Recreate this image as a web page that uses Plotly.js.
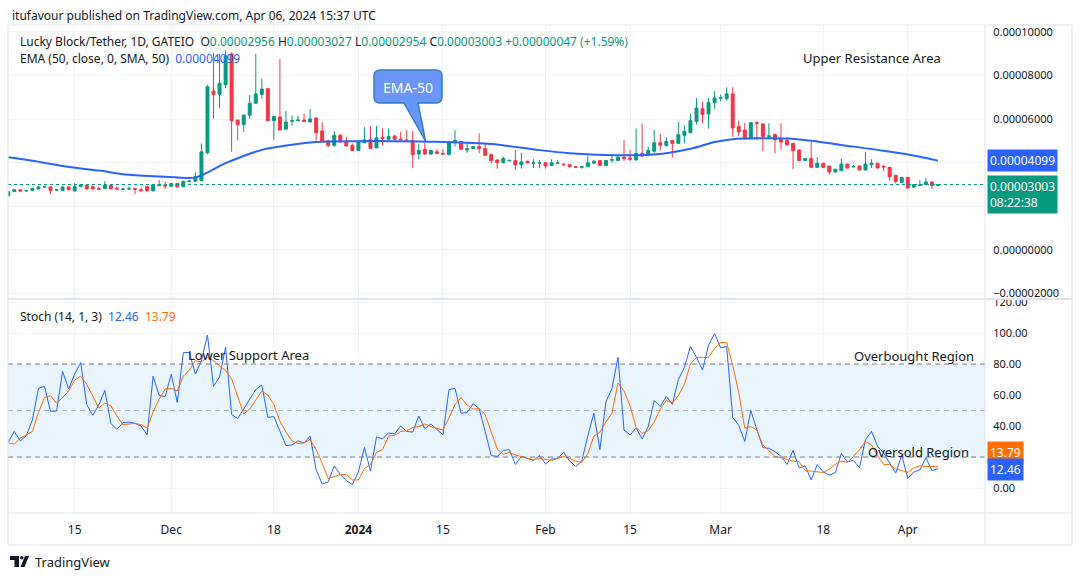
<!DOCTYPE html>
<html>
<head>
<meta charset="utf-8">
<script src="https://cdn.plot.ly/plotly-3.0.1.min.js"></script>
<style>html,body{margin:0;padding:0;background:#fff;}#chart{width:1080px;height:579px;}</style>
</head>
<body>
<div id="chart"></div>
<script>
// Prices in micro-USDT (1e-6 USDT); daily candles from 2023-11-04
const priceUnit = 1e-6;
const startDay = '2023-11-04';
const open = [
24.9,26.8,27.6,27.1,27.3,28.0,28.9,28.9,27.4,27.3,
28.9,27.1,29.1,29.6,29.0,28.1,28.1,29.6,28.3,27.7,
28.0,28.1,27.6,29.0,27.1,29.9,29.6,29.2,30.5,29.0,
31.4,31.5,31.8,44.6,72.9,71.4,75.8,89.9,59.6,57.5,
61.8,67.3,71.4,74.0,59.3,61.0,55.4,59.1,59.4,59.6,
58.7,60.5,54.6,50.0,48.0,52.6,49.8,47.9,45.6,49.2,
50.6,46.8,51.7,50.8,52.3,50.9,50.5,50.2,44.0,46.2,
44.0,45.0,44.3,43.7,49.5,49.8,45.9,46.5,47.4,46.5,
43.7,41.3,40.0,40.9,41.0,39.1,40.7,39.7,39.8,40.0,
38.8,39.8,39.4,39.1,38.2,37.9,38.2,39.8,41.0,38.8,
41.2,41.0,42.5,42.2,41.3,44.3,43.4,45.3,49.2,48.0,
50.2,48.9,52.6,53.8,59.0,64.8,62.4,67.6,69.6,69.4,
71.6,56.6,55.0,51.1,58.4,57.8,52.0,52.9,51.1,50.2,
48.9,45.9,41.0,41.9,37.9,39.8,38.5,35.8,36.4,39.4,
38.1,38.5,36.7,39.1,39.8,38.3,37.9,34.3,30.9,33.3,
28.8,29.6,30.0,31.2,29.56];
const high = [
27.0,27.8,27.9,27.6,28.6,29.3,29.4,29.1,28.0,29.1,
29.1,30.7,30.2,29.8,29.6,29.0,31.6,29.8,29.1,28.6,
29.1,28.6,28.6,29.5,30.3,32.1,31.3,30.8,30.7,31.7,
32.2,35.6,48.9,75.8,90.5,90.0,91.5,90.7,59.6,61.9,
71.1,89.9,78.7,74.2,61.2,87.6,63.8,61.6,61.5,62.7,
64.7,60.9,58.7,50.5,54.6,53.2,52.0,48.9,50.2,56.3,
56.9,56.9,55.8,55.7,52.6,54.3,55.0,54.7,48.6,49.2,
46.0,46.2,46.2,49.5,55.0,50.0,48.9,47.6,53.5,48.9,
44.3,41.5,42.8,41.4,45.9,44.6,40.9,41.6,41.3,40.2,
41.6,41.3,39.6,39.3,38.3,38.4,43.1,41.3,41.2,41.2,
43.1,43.4,50.5,45.9,55.7,58.1,47.4,55.0,53.2,51.7,
50.5,58.7,57.2,62.7,69.7,67.9,69.7,72.8,71.3,74.6,
74.6,59.3,58.1,58.4,59.0,58.1,58.1,53.5,58.1,51.7,
49.2,46.0,42.2,49.5,42.5,40.0,38.6,37.2,41.9,39.6,
39.1,38.7,45.0,41.6,39.9,39.1,38.0,34.4,33.5,33.4,
30.3,32.1,33.1,31.3,30.27];
const low = [
24.6,26.5,26.8,26.5,27.0,27.8,28.6,25.6,27.0,27.1,
27.4,26.8,28.9,27.8,27.4,27.4,27.9,27.8,27.6,27.5,
27.5,25.5,26.5,27.0,26.9,29.3,28.0,29.0,28.7,28.8,
31.0,31.3,31.5,44.0,60.2,65.0,74.2,45.1,50.2,54.1,
60.2,67.3,69.4,59.0,50.6,55.0,55.4,57.0,58.9,58.9,
58.7,50.2,50.0,47.1,47.4,49.5,47.7,45.6,45.6,49.2,
46.2,46.8,47.9,50.8,50.5,50.3,49.5,37.6,41.6,43.7,
43.8,44.0,43.8,43.5,47.4,46.0,44.6,46.3,44.3,43.2,
39.8,37.3,39.8,40.6,36.7,37.3,39.8,37.6,37.6,37.3,
38.6,39.5,38.9,38.0,37.6,37.3,38.0,39.6,38.6,38.6,
40.0,40.8,40.7,40.7,41.0,42.5,43.2,44.6,45.6,47.4,
42.5,48.7,48.9,53.5,57.5,58.1,55.7,64.8,68.2,68.5,
52.0,52.3,50.5,51.0,50.5,45.3,51.1,44.3,45.9,47.7,
37.0,40.8,40.8,37.6,37.6,37.6,34.5,35.6,36.2,37.4,
37.8,36.5,36.5,37.6,37.4,36.1,31.8,30.6,30.7,28.3,
28.6,29.4,29.9,28.1,29.54];
const close = [
26.7,27.6,27.0,27.3,28.2,28.9,29.0,27.3,27.6,28.9,
27.6,29.1,29.8,28.0,28.1,27.9,29.7,28.0,28.0,27.9,
28.1,27.8,27.3,27.1,30.0,29.5,29.3,30.5,28.9,31.5,
31.6,33.5,45.0,74.9,71.4,76.5,89.0,59.3,57.5,61.9,
67.3,71.6,73.8,59.3,61.2,55.0,58.7,59.3,59.6,58.9,
60.1,53.8,50.0,47.9,52.6,49.5,47.7,45.6,49.5,50.5,
46.6,51.4,51.1,52.1,50.8,50.6,49.8,43.7,45.6,44.0,
45.6,44.3,44.0,49.5,50.2,46.2,46.5,47.4,46.5,43.4,
41.0,40.0,41.9,41.1,39.1,40.4,40.0,40.0,39.9,38.5,
40.0,39.9,39.1,38.2,37.9,38.2,40.0,40.7,38.8,41.0,
41.4,42.5,41.9,41.6,44.3,43.1,45.6,49.2,48.0,49.8,
48.9,52.9,54.4,59.3,65.1,62.1,67.6,69.7,69.8,71.6,
56.0,54.1,51.1,58.4,58.1,52.0,52.3,50.5,49.5,48.3,
45.6,41.0,41.9,37.9,39.8,37.9,35.8,37.0,39.4,37.6,
38.3,36.7,39.4,39.8,37.6,38.1,33.6,31.5,33.3,28.4,
30.0,29.8,31.2,29.6,30.03];

// EMA(50) read at selected candles (day index from start, value in micro-USDT)
const emaDay = [0,4,9,15,20,26,31,36,42,44,51,58,64,71,80,88,93,99,104,109,113,117,120,124,129,133,140,145,151,154];
const emaVal = [42.5,40.9,38.5,36.4,34.5,33.6,33.3,39.8,45.9,47.0,49.5,49.9,49.9,49.6,48.6,45.8,44.4,43.6,43.5,44.4,46.4,49.5,50.8,51.2,51.1,50.1,47.4,45.5,42.8,40.99];

// Stochastic (14,1,3)
const stochK = [
29.6,36.5,30.4,33.9,43.9,64.3,65.6,49.6,49.6,75.2,
63.9,73.5,80.9,53.9,46.9,53.5,63.0,41.7,37.8,42.2,
42.6,41.7,40.0,34.3,72.2,59.6,59.1,73.5,55.2,87.4,
87.4,73.5,82.2,98.7,65.6,71.7,90.9,47.4,44.8,50.9,
57.4,63.5,66.5,45.6,46.1,36.5,27.4,27.8,30.4,29.1,
33.5,11.7,2.6,3.9,14.3,8.7,4.8,2.2,10.4,26.1,
10.9,33.0,31.7,35.6,34.8,40.0,36.5,36.1,46.5,38.3,
41.3,37.8,34.3,63.5,64.3,48.3,48.7,54.3,51.3,36.5,
20.9,20.4,24.3,24.8,15.2,20.4,19.1,17.8,20.9,15.6,
18.7,19.1,23.0,17.4,13.9,17.4,33.5,48.3,24.8,55.6,
64.3,84.3,37.4,34.3,38.7,31.7,39.6,56.5,52.6,59.1,
53.9,70.0,77.8,91.3,84.3,76.1,92.2,99.6,90.4,91.3,
45.6,40.4,30.0,50.0,37.8,26.1,25.6,23.5,20.4,15.2,
24.3,13.0,14.3,5.2,15.2,10.4,8.3,10.0,22.2,16.9,
17.8,13.0,31.3,36.5,26.9,22.6,16.1,9.6,21.3,6.1,
10.4,11.7,19.6,11.3,12.46];
const stochD = [
29.1,28.3,32.2,34.3,36.5,48.7,58.3,59.6,54.8,58.3,
62.6,69.6,72.2,66.9,59.6,51.7,54.8,53.0,46.5,40.9,
41.3,41.7,40.9,38.7,49.1,57.4,63.9,64.3,62.6,72.2,
76.1,82.2,81.3,84.3,82.2,79.1,75.6,70.4,59.6,47.8,
50.9,56.5,62.6,60.0,53.9,43.0,36.1,30.4,28.7,29.1,
31.3,24.8,16.1,6.1,7.4,8.7,8.7,5.2,5.2,12.6,
15.2,23.0,24.8,33.5,33.9,36.5,36.9,39.1,39.6,41.3,
39.6,38.3,37.4,45.2,53.9,58.3,53.5,50.9,51.3,47.4,
35.6,25.2,21.7,23.0,21.3,20.4,19.1,18.3,19.1,18.3,
17.8,19.1,20.4,19.1,17.4,16.5,22.2,33.5,36.1,42.6,
48.3,67.8,62.6,53.0,39.1,35.2,37.0,42.6,50.9,56.5,
54.8,59.6,66.9,80.0,84.3,84.3,84.3,90.0,93.9,93.9,
79.1,61.7,38.7,39.6,37.4,27.8,23.9,20.4,19.6,18.3,
17.4,16.9,11.3,10.9,10.4,10.0,12.2,15.2,17.4,16.5,
20.4,24.8,30.0,27.8,20.9,15.2,15.2,12.2,11.3,10.0,
13.0,14.3,13.9,13.9,13.79];

const tickDates = ['2023-11-15','2023-12-01','2023-12-18','2024-01-01','2024-01-15','2024-02-01','2024-02-15','2024-03-01','2024-03-18','2024-04-01'];
const tickText = ['15','Dec','18','<b>2024</b>','15','Feb','15','Mar','18','Apr'];

const lastClose = 30.03, lastEma = 40.99, lastK = 12.46, lastD = 13.79;

// ---- build ----
const t0 = Date.parse(startDay + 'T00:00:00Z');
const dates = open.map((_, i) => new Date(t0 + i * 86400000).toISOString().slice(0, 10));
const sc = a => a.map(v => v * priceUnit);

const GREEN = '#089981', RED = '#f23645', BLUE = '#2962ff', ORANGE = '#ff6d00';
const FONT = 'Noto Sans, Roboto, sans-serif';

const traces = [
  {
    type: 'candlestick', x: dates, open: sc(open), high: sc(high), low: sc(low), close: sc(close),
    xaxis: 'x', yaxis: 'y', whiskerwidth: 0, hoverinfo: 'none',
    increasing: {line: {color: GREEN, width: 1}, fillcolor: GREEN},
    decreasing: {line: {color: RED, width: 1}, fillcolor: RED}
  },
  {
    type: 'scatter', mode: 'lines', x: emaDay.map(d => dates[d]), y: sc(emaVal),
    xaxis: 'x', yaxis: 'y', line: {color: BLUE, width: 2, shape: 'spline', smoothing: 0.9}, hoverinfo: 'none'
  },
  {
    type: 'scatter', mode: 'lines', x: dates, y: stochK, xaxis: 'x', yaxis: 'y2',
    line: {color: BLUE, width: 1}, hoverinfo: 'none'
  },
  {
    type: 'scatter', mode: 'lines', x: dates, y: stochD, xaxis: 'x', yaxis: 'y2',
    line: {color: ORANGE, width: 1}, hoverinfo: 'none'
  }
];

// pixel helpers for decoration placement (paper coords)
const PX = px => (px - 8) / 1064;
const PY = py => (545 - py) / 520;
const XD = PX(985);

const g = s => '<span style="color:' + GREEN + '">' + s + '</span>';
const legend1 = 'Lucky Block/Tether, 1D, GATEIO  O' + g('0.00002956') + ' H' + g('0.00003027') + ' L' + g('0.00002954') + ' C' + g('0.00003003') + ' ' + g('+0.00000047 (+1.59%)');
const legend2 = 'EMA (50, close, 0, SMA, 50)  <span style="color:' + BLUE + '">0.00004099</span>';
const legend3 = 'Stoch (14, 1, 3)  <span style="color:' + BLUE + '">12.46</span>  <span style="color:' + ORANGE + '">13.79</span>';

function rr(x0, x1, y0, y1) { // rounded callout path
  const dx = PX(14) - PX(8), dy = PY(539) - PY(545);
  const bx0 = PX(404), bx1 = PX(418), tx = PX(425.5), ty = PY(141);
  return 'M' + (x0 + dx) + ',' + y1 + ' L' + (x1 - dx) + ',' + y1 + ' Q' + x1 + ',' + y1 + ' ' + x1 + ',' + (y1 - dy) +
    ' L' + x1 + ',' + (y0 + dy) + ' Q' + x1 + ',' + y0 + ' ' + (x1 - dx) + ',' + y0 +
    ' L' + bx1 + ',' + y0 + ' L' + tx + ',' + ty + ' L' + bx0 + ',' + y0 +
    ' L' + (x0 + dx) + ',' + y0 + ' Q' + x0 + ',' + y0 + ' ' + x0 + ',' + (y0 + dy) +
    ' L' + x0 + ',' + (y1 - dy) + ' Q' + x0 + ',' + y1 + ' ' + (x0 + dx) + ',' + y1 + ' Z';
}

const frameCol = '#e0e3eb';
const shapes = [
  {type: 'rect', xref: 'paper', yref: 'y2', x0: 0, x1: XD, y0: 20, y1: 80, fillcolor: 'rgba(33,150,243,0.1)', line: {width: 0}, layer: 'below'},
  {type: 'line', xref: 'paper', yref: 'y2', x0: 0, x1: XD, y0: 80, y1: 80, line: {color: '#787b86', width: 1, dash: '5px,4px'}},
  {type: 'line', xref: 'paper', yref: 'y2', x0: 0, x1: XD, y0: 50, y1: 50, line: {color: 'rgba(120,123,134,0.5)', width: 1, dash: '5px,4px'}},
  {type: 'line', xref: 'paper', yref: 'y2', x0: 0, x1: XD, y0: 20, y1: 20, line: {color: '#787b86', width: 1, dash: '5px,4px'}},
  {type: 'line', xref: 'paper', yref: 'y', x0: 0, x1: XD, y0: lastClose * priceUnit, y1: lastClose * priceUnit, line: {color: GREEN, width: 1, dash: 'dot'}},
  {type: 'rect', xref: 'paper', yref: 'paper', x0: 0, x1: 1, y0: 0, y1: 1, line: {color: frameCol, width: 1}},
  {type: 'line', xref: 'paper', yref: 'paper', x0: XD, x1: XD, y0: 0, y1: 1, line: {color: frameCol, width: 1}},
  {type: 'line', xref: 'paper', yref: 'paper', x0: 0, x1: 1, y0: PY(299), y1: PY(299), line: {color: frameCol, width: 2}},
  {type: 'line', xref: 'paper', yref: 'paper', x0: 0, x1: 1, y0: PY(513), y1: PY(513), line: {color: frameCol, width: 1}},
  {type: 'path', xref: 'paper', yref: 'paper', path: rr(PX(374), PX(442), PY(103), PY(70)), fillcolor: '#6a95fb', line: {color: '#2f7fc1', width: 1.5}},
  // TradingView logo
  {type: 'rect', xref: 'paper', yref: 'paper', x0: PX(10), x1: PX(19), y0: PY(560), y1: PY(556), fillcolor: '#131722', line: {width: 0}},
  {type: 'rect', xref: 'paper', yref: 'paper', x0: PX(14.5), x1: PX(19), y0: PY(567), y1: PY(556), fillcolor: '#131722', line: {width: 0}},
  {type: 'circle', xref: 'paper', yref: 'paper', x0: PX(20), x1: PX(23.5), y0: PY(559.5), y1: PY(556), fillcolor: '#131722', line: {width: 0}},
  {type: 'path', xref: 'paper', yref: 'paper', path: 'M' + PX(25) + ',' + PY(556) + ' L' + PX(29) + ',' + PY(556) + ' L' + PX(24.5) + ',' + PY(567) + ' L' + PX(20.5) + ',' + PY(567) + ' Z', fillcolor: '#131722', line: {width: 0}}
];

const ann = (text, x, y, opts) => Object.assign({text: text, x: x, y: y, xref: 'paper', yref: 'paper', showarrow: false, xanchor: 'left', yanchor: 'middle', font: {family: FONT, size: 12, color: '#131722'}}, opts || {});

const annotations = [
  ann('itufavour published on TradingView.com, Apr 06, 2024 15:37 UTC', PX(10), PY(15)),
  ann(legend1, PX(18), PY(41)),
  ann(legend2, PX(18), PY(58)),
  ann(legend3, PX(18), PY(316)),
  ann('Upper Resistance Area', PX(872), PY(58), {xanchor: 'center', font: {family: FONT, size: 13, color: '#131722'}}),
  ann('Lower Support Area', PX(248), PY(355), {xanchor: 'center', font: {family: FONT, size: 13, color: '#131722'}}),
  ann('Overbought Region', PX(914), PY(356), {xanchor: 'center', font: {family: FONT, size: 13, color: '#131722'}}),
  ann('Oversold Region', PX(918), PY(452), {xanchor: 'center', font: {family: FONT, size: 13, color: '#131722'}}),
  ann('EMA-50', PX(408), PY(87), {xanchor: 'center', font: {family: FONT, size: 14, color: '#ffffff'}}),
  ann((lastEma * priceUnit).toFixed(8), PX(987), lastEma * priceUnit, {yref: 'y', bgcolor: BLUE, borderpad: 2, font: {family: FONT, size: 12, color: '#ffffff'}}),
  ann((lastClose * priceUnit).toFixed(8) + '<br>08:22:38', PX(987), lastClose * priceUnit, {yref: 'y', yanchor: 'top', yshift: 10, bgcolor: GREEN, borderpad: 2, align: 'left', font: {family: FONT, size: 12, color: '#ffffff'}}),
  ann(lastD.toFixed(2), PX(987), lastD, {yref: 'y2', yshift: 14, bgcolor: ORANGE, borderpad: 2, font: {family: FONT, size: 12, color: '#ffffff'}}),
  ann(lastK.toFixed(2), PX(987), lastK, {yref: 'y2', yshift: -1, bgcolor: BLUE, borderpad: 2, font: {family: FONT, size: 12, color: '#ffffff'}}),
  ann('TradingView', PX(33), PY(562), {font: {family: FONT, size: 13, color: '#131722'}})
];

const gridCol = '#f0f3fa';
const layout = {
  width: 1080, height: 579,
  margin: {l: 8, r: 8, t: 25, b: 34},
  paper_bgcolor: '#ffffff', plot_bgcolor: '#ffffff',
  showlegend: false,
  font: {family: FONT, size: 11, color: '#131722'},
  xaxis: {
    type: 'date', domain: [0, XD], anchor: 'y2',
    range: ['2023-11-03 23:00', '2024-04-13 19:00'],
    tickvals: tickDates, ticktext: tickText,
    showgrid: true, gridcolor: gridCol, gridwidth: 1,
    ticks: 'outside', ticklen: 6, tickcolor: 'rgba(0,0,0,0)',
    tickfont: {family: FONT, size: 12, color: '#131722'},
    rangeslider: {visible: false}, showline: false, zeroline: false, fixedrange: true
  },
  yaxis: {
    domain: [PY(299), 1], side: 'right', anchor: 'x',
    range: [-22.5e-6, 103.2e-6], tick0: 0, dtick: 2e-5, tickformat: '.8f',
    showgrid: true, gridcolor: gridCol, zeroline: false, showline: false,
    ticks: 'outside', ticklen: 5, tickcolor: 'rgba(0,0,0,0)',
    tickfont: {family: FONT, size: 11, color: '#131722'}, fixedrange: true
  },
  yaxis2: {
    domain: [PY(513), PY(300)], side: 'right', anchor: 'x',
    range: [-16.1, 121.3], tick0: 0, dtick: 20, tickformat: '.2f',
    showgrid: true, gridcolor: gridCol, zeroline: false, showline: false,
    ticks: 'outside', ticklen: 5, tickcolor: 'rgba(0,0,0,0)',
    tickfont: {family: FONT, size: 11, color: '#131722'}, fixedrange: true
  },
  shapes: shapes,
  annotations: annotations
};

Plotly.newPlot('chart', traces, layout, {staticPlot: true, displayModeBar: false});
</script>
</body>
</html>
